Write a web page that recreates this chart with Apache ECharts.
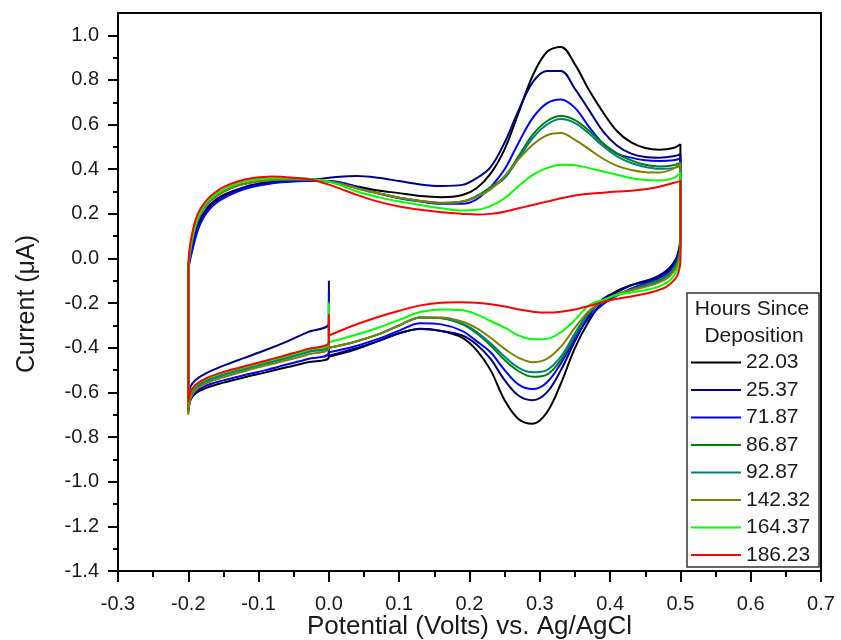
<!DOCTYPE html>
<html><head><meta charset="utf-8">
<script src="https://cdn.jsdelivr.net/npm/echarts@6/dist/echarts.min.js"></script>
<style>html,body{margin:0;padding:0;background:#fff}#c{width:841px;height:640px}</style>
</head><body><div id="c"></div>
<script>
// ---- tick labels ----
const xTicksMin = -0.3, xTicksMax = 0.7, xStep = 0.1;
const yTicks = [-1.4, -1.2, -1.0, -0.8, -0.6, -0.4, -0.2, 0.0, 0.2, 0.4, 0.6, 0.8, 1.0];
const yMinor = [-1.3, -1.1, -0.9, -0.7, -0.5, -0.3, -0.1, 0.1, 0.3, 0.5, 0.7, 0.9];

// ---- legend / series names ----
const hours = ['22.03', '25.37', '71.87', '86.87', '92.87', '142.32', '164.37', '186.23'];
const colors = ['#000000', '#000080', '#0000ff', '#008000', '#008080', '#808000', '#00ff00', '#ff0000'];

// ---- potentials (V vs Ag/AgCl) ----
// initial cathodic sweep 0 -> -0.2
const E_init = [0, -0.03, -0.06, -0.09, -0.12, -0.15, -0.175, -0.19, -0.197, -0.2];
// anodic sweep -0.2 -> 0.5
const E_up = [-0.2, -0.199, -0.197, -0.194, -0.19, -0.185, -0.178, -0.17, -0.16, -0.15, -0.13, -0.11, -0.08, -0.05, -0.02, 0.01, 0.04, 0.07, 0.10, 0.13, 0.16, 0.19, 0.21, 0.23, 0.25, 0.27, 0.29, 0.31, 0.33, 0.35, 0.37, 0.39, 0.41, 0.43, 0.45, 0.47, 0.49, 0.5];
// reverse sweep 0.5 -> 0
const E_rev = [0.5, 0.499, 0.497, 0.494, 0.49, 0.485, 0.478, 0.47, 0.46, 0.45, 0.43, 0.41, 0.39, 0.37, 0.35, 0.33, 0.31, 0.29, 0.27, 0.25, 0.23, 0.21, 0.19, 0.16, 0.13, 0.10, 0.07, 0.035, 0.0];

// ---- currents (uA) ----
const spike = [-0.30, -0.10, -0.15, -0.19, -0.22, -0.26, -0.20, -0.25];

const init_2203 = [-0.44, -0.465, -0.487, -0.51, -0.532, -0.556, -0.58, -0.605, -0.635, -0.69];
const init_2537 = [-0.29, -0.33, -0.372, -0.41, -0.445, -0.48, -0.515, -0.545, -0.575, -0.62];
const init_7187 = [-0.42, -0.45, -0.475, -0.50, -0.522, -0.546, -0.57, -0.60, -0.63, -0.68];
const init_8687 = [-0.385, -0.415, -0.44, -0.465, -0.49, -0.515, -0.545, -0.575, -0.61, -0.66];
const init_9287 = [-0.39, -0.42, -0.447, -0.472, -0.497, -0.523, -0.552, -0.58, -0.615, -0.67];
const init_14232 = [-0.40, -0.43, -0.456, -0.48, -0.505, -0.532, -0.56, -0.59, -0.63, -0.70];
const init_16437 = [-0.38, -0.41, -0.437, -0.462, -0.487, -0.512, -0.54, -0.57, -0.605, -0.65];
const init_18623 = [-0.375, -0.405, -0.432, -0.458, -0.483, -0.508, -0.537, -0.567, -0.60, -0.645];

const up_2203 = [-0.05, -0.02, 0.02, 0.06, 0.11, 0.155, 0.195, 0.23, 0.258, 0.28, 0.307, 0.325, 0.34, 0.347, 0.35, 0.343, 0.323, 0.305, 0.293, 0.28, 0.275, 0.285, 0.315, 0.38, 0.49, 0.655, 0.82, 0.925, 0.948, 0.87, 0.755, 0.655, 0.57, 0.52, 0.495, 0.487, 0.495, 0.512];
const up_2537 = [-0.05, -0.02, 0.02, 0.07, 0.12, 0.165, 0.205, 0.24, 0.265, 0.285, 0.31, 0.33, 0.345, 0.35, 0.355, 0.365, 0.37, 0.362, 0.347, 0.332, 0.325, 0.33, 0.36, 0.41, 0.52, 0.665, 0.79, 0.84, 0.84, 0.76, 0.665, 0.57, 0.505, 0.47, 0.455, 0.452, 0.458, 0.468];
const up_7187 = [-0.05, -0.03, 0.0, 0.04, 0.09, 0.14, 0.185, 0.22, 0.25, 0.27, 0.30, 0.32, 0.337, 0.345, 0.348, 0.345, 0.32, 0.292, 0.27, 0.255, 0.245, 0.245, 0.265, 0.32, 0.40, 0.52, 0.63, 0.695, 0.712, 0.675, 0.59, 0.515, 0.47, 0.452, 0.44, 0.437, 0.44, 0.448];
const up_8687 = [-0.05, -0.01, 0.04, 0.09, 0.14, 0.185, 0.225, 0.255, 0.28, 0.30, 0.327, 0.342, 0.352, 0.355, 0.352, 0.34, 0.315, 0.292, 0.272, 0.258, 0.248, 0.255, 0.28, 0.32, 0.365, 0.46, 0.555, 0.615, 0.638, 0.62, 0.573, 0.515, 0.47, 0.44, 0.42, 0.412, 0.418, 0.43];
const up_9287 = [-0.05, -0.01, 0.04, 0.09, 0.14, 0.185, 0.225, 0.255, 0.28, 0.30, 0.327, 0.342, 0.352, 0.355, 0.352, 0.34, 0.315, 0.292, 0.272, 0.258, 0.248, 0.255, 0.278, 0.315, 0.36, 0.45, 0.54, 0.60, 0.625, 0.607, 0.56, 0.503, 0.458, 0.428, 0.41, 0.402, 0.405, 0.415];
const up_14232 = [-0.05, -0.01, 0.04, 0.09, 0.14, 0.185, 0.225, 0.255, 0.28, 0.30, 0.327, 0.342, 0.352, 0.355, 0.352, 0.34, 0.315, 0.292, 0.272, 0.258, 0.25, 0.255, 0.275, 0.31, 0.37, 0.445, 0.51, 0.552, 0.562, 0.532, 0.49, 0.447, 0.415, 0.397, 0.387, 0.385, 0.403, 0.428];
const up_16437 = [-0.05, 0.0, 0.05, 0.10, 0.15, 0.195, 0.235, 0.265, 0.29, 0.31, 0.337, 0.352, 0.36, 0.36, 0.355, 0.335, 0.30, 0.275, 0.255, 0.24, 0.225, 0.215, 0.218, 0.235, 0.27, 0.325, 0.375, 0.405, 0.42, 0.418, 0.405, 0.39, 0.375, 0.36, 0.352, 0.35, 0.36, 0.385];
const up_18623 = [-0.05, 0.02, 0.07, 0.12, 0.17, 0.21, 0.245, 0.275, 0.30, 0.32, 0.345, 0.36, 0.368, 0.362, 0.35, 0.32, 0.285, 0.255, 0.233, 0.218, 0.207, 0.2, 0.197, 0.2, 0.21, 0.225, 0.24, 0.255, 0.27, 0.282, 0.29, 0.295, 0.3, 0.304, 0.31, 0.322, 0.338, 0.348];

const rev_2203 = [0.10, 0.05, 0.02, -0.005, -0.025, -0.045, -0.065, -0.08, -0.093, -0.103, -0.12, -0.145, -0.19, -0.28, -0.40, -0.56, -0.69, -0.74, -0.72, -0.635, -0.50, -0.41, -0.355, -0.325, -0.315, -0.335, -0.37, -0.41, -0.44];
const rev_2537 = [0.12, 0.06, 0.03, 0.0, -0.02, -0.04, -0.06, -0.075, -0.09, -0.10, -0.12, -0.15, -0.18, -0.255, -0.37, -0.50, -0.60, -0.635, -0.615, -0.545, -0.45, -0.385, -0.345, -0.325, -0.316, -0.335, -0.37, -0.405, -0.435];
const rev_7187 = [0.09, 0.04, 0.01, -0.015, -0.035, -0.055, -0.072, -0.087, -0.10, -0.11, -0.135, -0.165, -0.205, -0.265, -0.36, -0.47, -0.555, -0.585, -0.565, -0.50, -0.42, -0.37, -0.325, -0.295, -0.29, -0.323, -0.36, -0.395, -0.42];
const rev_8687 = [0.07, 0.03, 0.0, -0.025, -0.045, -0.065, -0.082, -0.095, -0.107, -0.117, -0.14, -0.165, -0.19, -0.245, -0.345, -0.455, -0.52, -0.53, -0.505, -0.455, -0.39, -0.335, -0.295, -0.268, -0.264, -0.30, -0.34, -0.375, -0.40];
const rev_9287 = [0.06, 0.02, -0.005, -0.03, -0.05, -0.07, -0.087, -0.1, -0.112, -0.122, -0.14, -0.162, -0.19, -0.24, -0.335, -0.44, -0.50, -0.51, -0.49, -0.44, -0.38, -0.328, -0.292, -0.266, -0.264, -0.30, -0.34, -0.375, -0.40];
const rev_14232 = [0.05, 0.01, -0.015, -0.04, -0.06, -0.078, -0.095, -0.107, -0.118, -0.127, -0.142, -0.16, -0.19, -0.235, -0.31, -0.395, -0.45, -0.465, -0.445, -0.405, -0.355, -0.312, -0.283, -0.264, -0.264, -0.30, -0.34, -0.375, -0.40];
const rev_16437 = [0.02, -0.01, -0.035, -0.06, -0.08, -0.098, -0.113, -0.125, -0.135, -0.142, -0.152, -0.163, -0.185, -0.21, -0.275, -0.33, -0.36, -0.362, -0.345, -0.31, -0.28, -0.25, -0.232, -0.228, -0.24, -0.275, -0.31, -0.345, -0.375];
const rev_18623 = [-0.01, -0.04, -0.065, -0.085, -0.10, -0.115, -0.13, -0.14, -0.15, -0.158, -0.17, -0.18, -0.195, -0.213, -0.228, -0.238, -0.242, -0.238, -0.228, -0.215, -0.205, -0.198, -0.196, -0.198, -0.21, -0.234, -0.262, -0.30, -0.345];

const initSets = [init_2203, init_2537, init_7187, init_8687, init_9287, init_14232, init_16437, init_18623];
const upSets = [up_2203, up_2537, up_7187, up_8687, up_9287, up_14232, up_16437, up_18623];
const revSets = [rev_2203, rev_2537, rev_7187, rev_8687, rev_9287, rev_14232, rev_16437, rev_18623];

function loop(i) {
  const d = [[0, spike[i]]];
  E_init.forEach((e, k) => d.push([e, initSets[i][k]]));
  E_up.forEach((e, k) => d.push([e, upSets[i][k]]));
  E_rev.forEach((e, k) => d.push([e, revSets[i][k]]));
  return d;
}

const FONT = "'Liberation Sans', Arial, sans-serif";
const chart = echarts.init(document.getElementById('c'), null, {renderer: 'canvas'});

const series = hours.map((h, i) => ({
  name: h,
  type: 'line',
  data: loop(i),
  symbol: 'none',
  smooth: 0.35,
  color: colors[i],
  lineStyle: {color: colors[i], width: 2},
  itemStyle: {color: colors[i]},
  animation: false
}));

chart.setOption({
  backgroundColor: '#fff',
  animation: false,
  grid: {left: 118, right: 20, top: 13, bottom: 69, show: true, borderColor: '#000', borderWidth: 2,
         containLabel: false, outerBoundsMode: 'none'},
  xAxis: {
    type: 'value', min: xTicksMin, max: xTicksMax, interval: xStep,
    axisLine: {show: true, onZero: false, lineStyle: {color: '#000', width: 2}},
    axisTick: {show: true, length: 11, lineStyle: {color: '#000', width: 2}},
    minorTick: {show: true, splitNumber: 2, length: 6, lineStyle: {color: '#000', width: 2}},
    axisLabel: {color: '#1a1a1a', fontSize: 20, fontFamily: FONT, margin: 23, formatter: v => v.toFixed(1)},
    splitLine: {show: false},
    name: 'Potential (Volts) vs. Ag/AgCl', nameLocation: 'middle', nameGap: 43, nameMoveOverlap: false,
    nameTextStyle: {color: '#1a1a1a', fontSize: 26, fontFamily: FONT}
  },
  yAxis: [{
    type: 'value', min: -1.4, max: 1.1,
    axisLine: {show: true, onZero: false, lineStyle: {color: '#000', width: 2}},
    axisTick: {show: true, customValues: yTicks, length: 10, lineStyle: {color: '#000', width: 2}},
    axisLabel: {customValues: yTicks, color: '#1a1a1a', fontSize: 20, fontFamily: FONT, margin: 19, formatter: v => v.toFixed(1)},
    splitLine: {show: false}
  }, {
    type: 'value', min: -1.4, max: 1.1, position: 'left',
    axisLine: {show: false, onZero: false},
    axisTick: {show: true, customValues: yMinor, length: 5, lineStyle: {color: '#000', width: 2}},
    axisLabel: {show: false},
    splitLine: {show: false}
  }],
  legend: {
    orient: 'vertical', left: 691, top: 352, padding: 0,
    itemWidth: 50, itemHeight: 2, itemGap: 6.5, itemTextGap: 6,
    icon: 'rect', selectedMode: false,
    data: hours,
    textStyle: {color: '#1a1a1a', fontSize: 21, lineHeight: 21, fontFamily: FONT}
  },
  graphic: [
    {type: 'rect', z: 3, shape: {x: 687, y: 293, width: 132, height: 274},
     style: {fill: '#fff', stroke: '#333', lineWidth: 1.5}},
    {type: 'text', z: 5, x: 752, y: 309,
     style: {text: 'Hours Since', fontSize: 21, fontFamily: FONT, fill: '#1a1a1a', textAlign: 'center', textVerticalAlign: 'middle'}},
    {type: 'text', z: 5, x: 754, y: 336,
     style: {text: 'Deposition', fontSize: 21, fontFamily: FONT, fill: '#1a1a1a', textAlign: 'center', textVerticalAlign: 'middle'}},
    {type: 'text', z: 5, x: 27, y: 304, rotation: Math.PI / 2,
     style: {text: 'Current (μA)', fontSize: 25, fontFamily: FONT, fill: '#1a1a1a', textAlign: 'center', textVerticalAlign: 'middle'}}
  ],
  series: series
});
</script></body></html>
